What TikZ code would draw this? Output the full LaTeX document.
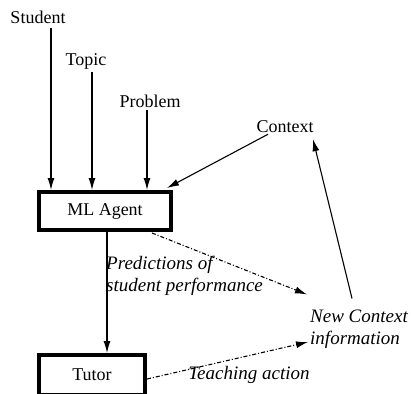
\documentclass[tikz,border=0pt]{standalone}
\usepackage{fontspec}
\setmainfont{Liberation Serif}
\usetikzlibrary{arrows.meta,calc}
\tikzset{
  lbl/.style={inner sep=1pt, font=\fontsize{18}{20}\selectfont},
  itl/.style={inner sep=0pt, align=left, font=\fontsize{19}{22}\selectfont\itshape},
  box/.style={draw, line width=4pt, font=\fontsize{18}{20}\selectfont},
  arr/.style={line width=1.1pt, -{Latex[length=12pt,width=7pt]}},
  dd/.style={dash pattern=on 4pt off 2pt on 1pt off 2pt}
}
\begin{document}
\begin{tikzpicture}[x=1pt,y=-1pt]
\useasboundingbox (0,0) rectangle (411,393);
\clip (0,0) rectangle (411,393);
% inputs
\node[lbl] (stu) at (38,17) {Student};
\node[lbl] (top) at (86,61) {Topic};
\node[lbl] (pro) at (150,101) {Problem};
\node[lbl] (ctx) at (285,127) {Context};
% boxes
\node[box, minimum width=132pt, minimum height=38pt] (ml) at (105,211) {ML Agent};
\node[box, minimum width=106pt, minimum height=40pt] (tut) at (92,375) {Tutor};
% labels
\node[itl, anchor=west] (nc) at (310,329) {New\ Context\\information};
\node[itl, anchor=west] (pred) at (106,276) {Predictions of\\student performance};
\node[itl] (teach) at (249,375) {Teaching action};
% start points of the input lines
\coordinate (s1) at ($(stu.south)+(13,3)$);
\coordinate (s2) at ($(top.south)+(6,2)$);
\coordinate (s3) at ($(pro.south)+(-3,1)$);
% connectors
\draw[arr] (s1) -- (s1 |- ml.north);
\draw[arr] (s2) -- (s2 |- ml.north);
\draw[arr] (s3) -- (s3 |- ml.north);
\draw[arr] ($(ctx.south)+(-17,0)$) -- ($(ml.north east)+(-6,-2)$);
\draw[arr] (ml.south -| 107,0) -- (tut.north -| 107,0);
\draw[arr, dd] ($(ml.south east)+(-21,1)$) -- ($(nc.north west)+(-3,-15)$);
\draw[arr, dd] ($(tut.east)+(0,4)$) -- ($(nc.west)+(-2,13)$);
\draw[arr] ($(nc.north)+(-7,-11)$) -- ($(ctx.south)+(28,5)$);
\end{tikzpicture}
\end{document}
